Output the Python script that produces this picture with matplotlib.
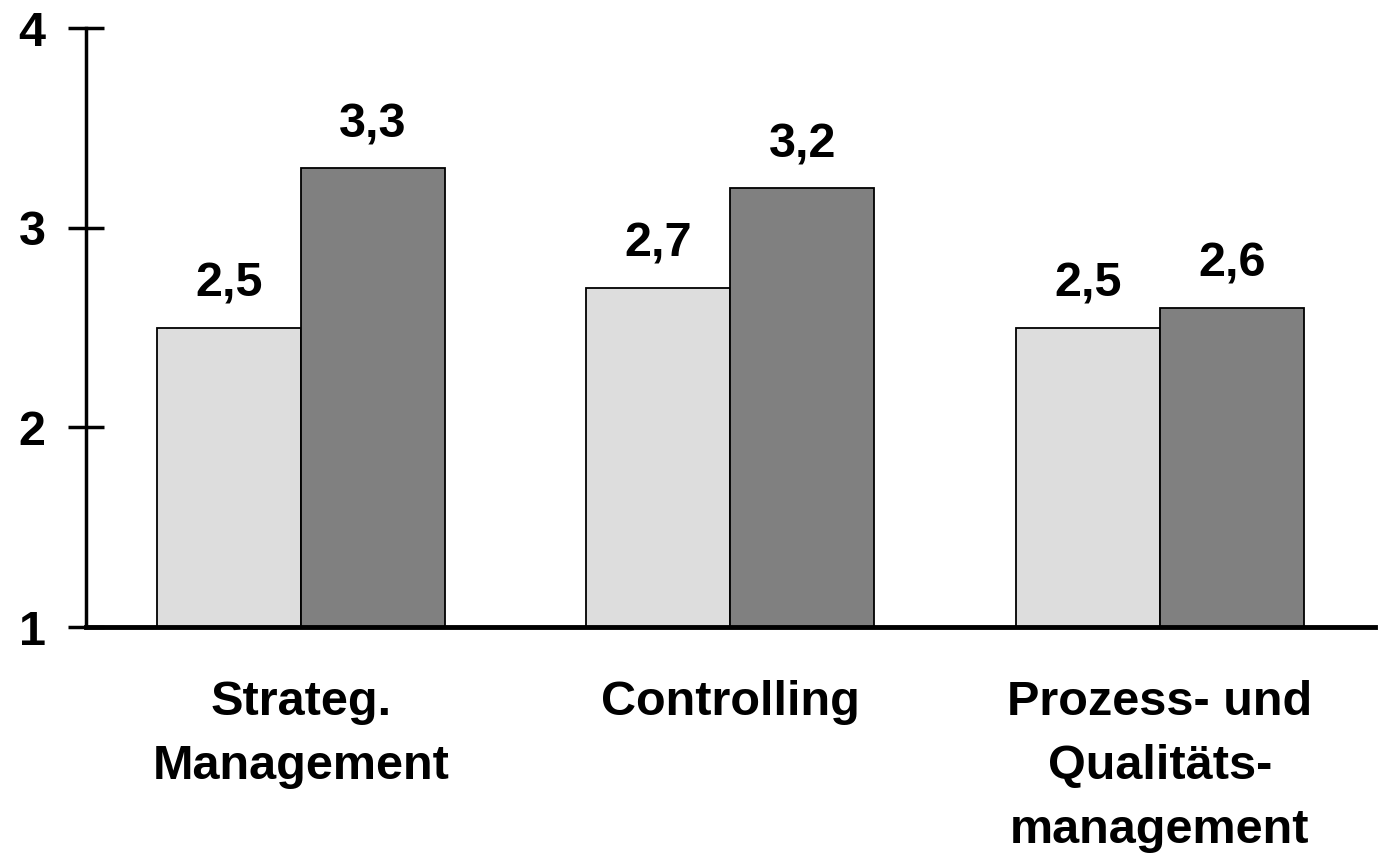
import matplotlib
matplotlib.use("Agg")
import matplotlib.pyplot as plt
import numpy as np

categories = ["Strateg.\nManagement", "Controlling", "Prozess- und\nQualitäts-\nmanagement"]
series_light = [2.5, 2.7, 2.5]
series_dark = [3.3, 3.2, 2.6]
y_ticks = [1, 2, 3, 4]

plt.rcParams["font.family"] = ["Liberation Sans", "DejaVu Sans"]
plt.rcParams["font.weight"] = "bold"

fig = plt.figure(figsize=(13.83, 8.56), dpi=100, facecolor="white")
ax = fig.add_axes([0.0622, 0.2675, 0.9318, 0.6995])

x = np.arange(len(categories))
width = 0.335
ax.bar(x - width / 2, series_light, width, bottom=0, color="#dddddd",
       edgecolor="black", linewidth=1.3, zorder=2)
ax.bar(x + width / 2, series_dark, width, bottom=0, color="#808080",
       edgecolor="black", linewidth=1.3, zorder=2)

for xs, vals in [(x - width / 2, series_light), (x + width / 2, series_dark)]:
    for xi, v in zip(xs, vals):
        ax.annotate(f"{v:.1f}".replace(".", ","), (xi, v), xytext=(0, 15),
                    textcoords="offset points", ha="center", va="bottom",
                    fontsize=35, fontweight="bold")

ax.set_xlim(-0.5, 2.5)
ax.set_ylim(1, 4)
ax.set_yticks(y_ticks)
ax.set_yticklabels([str(t) for t in y_ticks], fontsize=35, fontweight="bold")
ax.tick_params(axis="y", direction="inout", length=26, width=2.5, pad=16)
ax.set_xticks(x)
ax.set_xticklabels(categories, fontsize=35, fontweight="bold", linespacing=1.55)
ax.tick_params(axis="x", length=0, pad=38)

ax.spines["top"].set_visible(False)
ax.spines["right"].set_visible(False)
ax.spines["left"].set_linewidth(2.5)
ax.spines["bottom"].set_linewidth(3.5)
ax.spines["bottom"].set_zorder(3)

fig.savefig("out.png", dpi=100, facecolor="white")
